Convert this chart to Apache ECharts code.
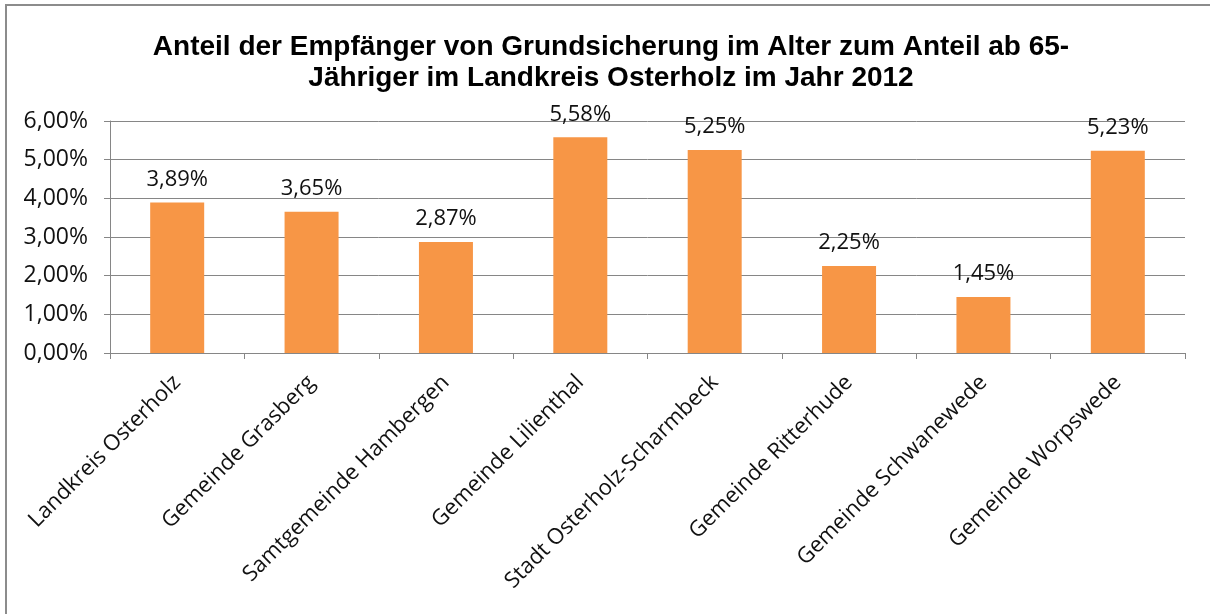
<!DOCTYPE html>
<html>
<head>
<meta charset="utf-8">
<script src="https://cdn.jsdelivr.net/npm/echarts@6/dist/echarts.min.js"></script>
<style>
  html, body { margin: 0; padding: 0; background: #fff; }
  #chart { width: 1210px; height: 614px; }
</style>
</head>
<body>
<div id="chart"></div>
<script>
const categories = [
  "Landkreis Osterholz",
  "Gemeinde Grasberg",
  "Samtgemeinde Hambergen",
  "Gemeinde Lilienthal",
  "Stadt Osterholz-Scharmbeck",
  "Gemeinde Ritterhude",
  "Gemeinde Schwanewede",
  "Gemeinde Worpswede"
];
const values = [3.89, 3.65, 2.87, 5.58, 5.25, 2.25, 1.45, 5.23];

const fmt = v => v.toFixed(2).replace(".", ",") + "%";
const labelFont = "'Open Sans', 'Noto Sans', sans-serif";

let myChart = echarts.init(document.getElementById("chart"));
myChart.setOption({
  animation: false,
  backgroundColor: "#fff",
  title: {
    text: "Anteil der Empfänger von Grundsicherung im Alter zum Anteil ab 65-\nJähriger im Landkreis Osterholz im Jahr 2012",
    left: 606,
    top: 27,
    textAlign: "center",
    textStyle: {
      fontFamily: "'Liberation Sans', Arial, sans-serif",
      fontWeight: "bold",
      fontSize: 28,
      lineHeight: 31,
      color: "#000"
    }
  },
  graphic: [{
    type: "rect",
    shape: { x: 6, y: 5, width: 1230, height: 640 },
    style: { fill: "none", stroke: "#8c8c8c", lineWidth: 2 },
    silent: true
  }],
  grid: { left: 110, right: 25, top: 121, bottom: 261 },
  xAxis: {
    type: "category",
    data: categories,
    axisLine: { lineStyle: { color: "#868686" } },
    axisTick: { show: true, length: 6, lineStyle: { color: "#868686" } },
    axisLabel: {
      rotate: 45,
      interval: 0,
      margin: 26,
      fontSize: 22,
      fontFamily: labelFont,
      color: "#111"
    }
  },
  yAxis: {
    type: "value",
    min: 0,
    max: 6,
    interval: 1,
    axisLine: { show: true, lineStyle: { color: "#868686" } },
    axisTick: { show: true, length: 6, lineStyle: { color: "#868686" } },
    splitLine: { lineStyle: { color: "#868686" } },
    axisLabel: {
      formatter: fmt,
      margin: 22,
      fontSize: 23,
      fontFamily: labelFont,
      color: "#111"
    }
  },
  series: [{
    type: "bar",
    data: values,
    barWidth: 54,
    itemStyle: { color: "#f79646" },
    label: {
      show: true,
      position: "top",
      distance: 12,
      formatter: p => fmt(p.value),
      fontSize: 22,
      fontFamily: labelFont,
      color: "#111"
    }
  }]
});
window.addEventListener("resize", () => {
  myChart.resize();
});
</script>
</body>
</html>
